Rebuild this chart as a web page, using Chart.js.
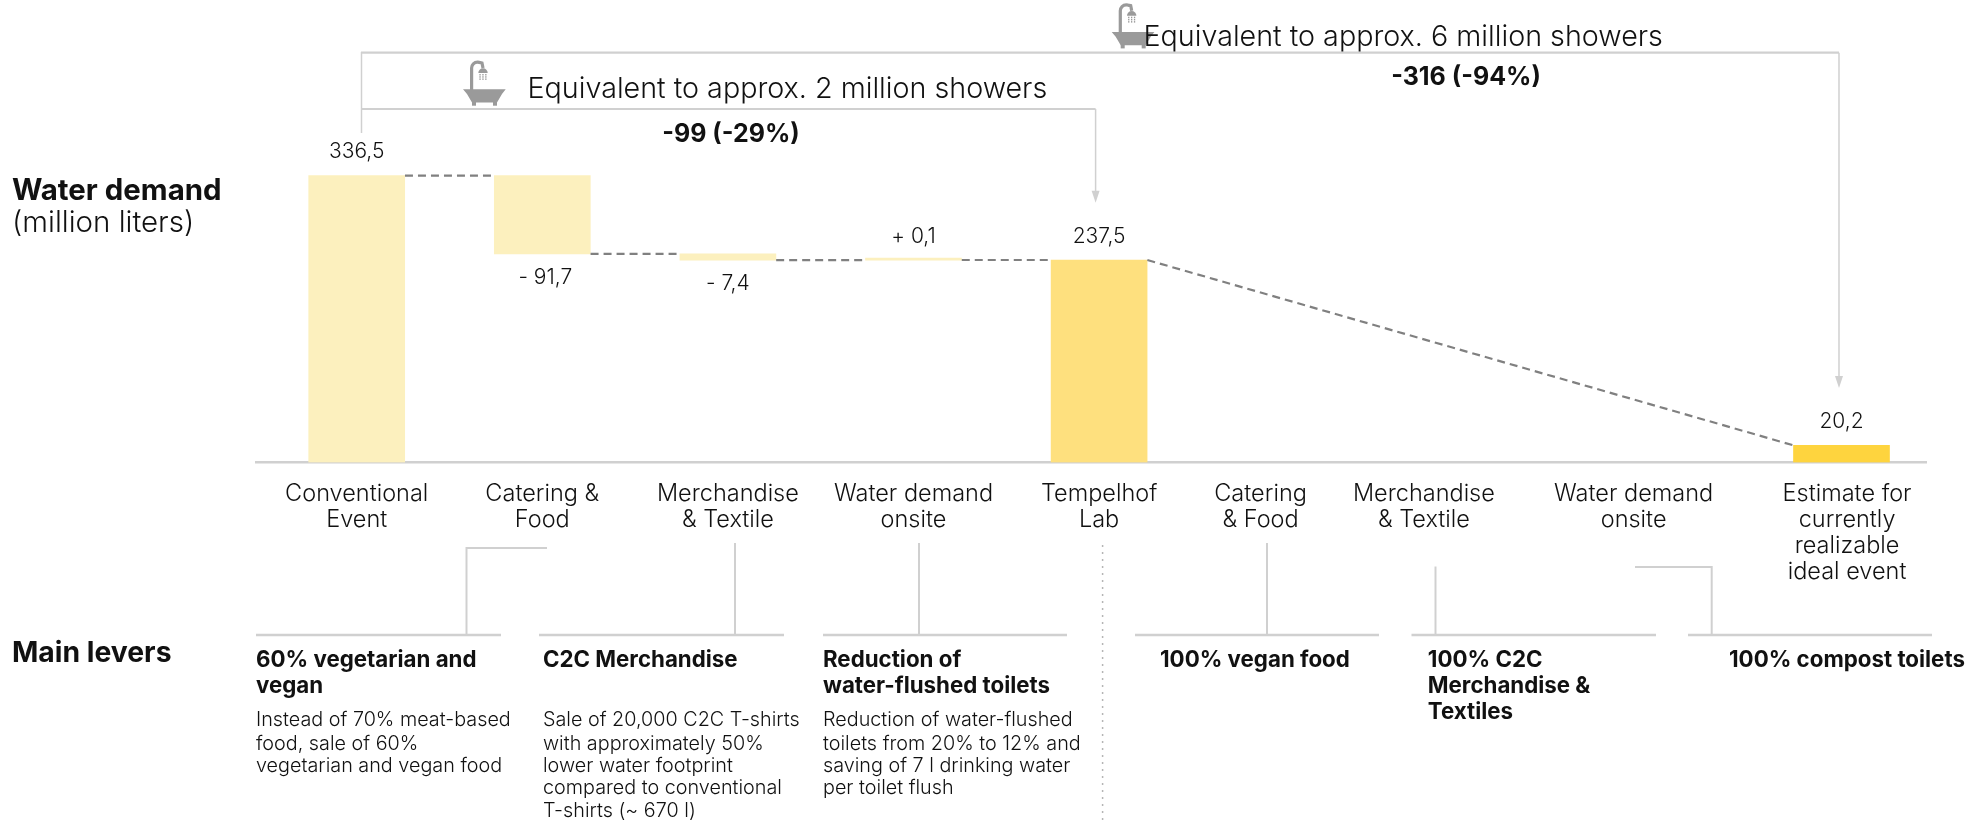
<!DOCTYPE html>
<html>
<head>
<meta charset="utf-8">
<title>Water demand</title>
<script src="https://cdn.jsdelivr.net/npm/chart.js@4/dist/chart.umd.min.js"></script>
<style>
  html, body { margin: 0; padding: 0; background: #fff; }
  canvas { display: block; }
</style>
</head>
<body>
<canvas id="waterChart" width="1987" height="820"></canvas>
<script>
const categories = [
    ['Conventional', 'Event'],
    ['Catering &', 'Food'],
    ['Merchandise', '& Textile'],
    ['Water demand', 'onsite'],
    ['Tempelhof', 'Lab'],
    ['Catering', '& Food'],
    ['Merchandise', '& Textile'],
    ['Water demand', 'onsite'],
    ['Estimate for', 'currently', 'realizable', 'ideal event']
];
// bars only exist for some of the columns, the rest stay null
const barStart = [0, 244.8, 237.4, 237.5, 0, null, null, null, 0];
const barEnd = [336.5, 336.5, 244.8, 237.4, 237.5, null, null, null, 20.2];
const valueLabels = ['336,5', '- 91,7', '- 7,4', '+ 0,1', '237,5', '', '', '', '20,2'];
const connectorLevels = [336.5, 244.8, 237.4, 237.5];

const barColors = ['#fcf0be', '#fcf0be', '#fcf0be', '#fcf0be', '#fee07e', null, null, null, '#fed43e'];
const tickSlots = [0, 1, 2, 3, 4, 4.87, 5.75, 6.88, 8.03];

const FONT = 'Inter, "Open Sans", sans-serif';
const GREY = '#d0d0d0';
const halfBar = 0.26;

function buildBars() {
    const out = [];
    categories.forEach((c, i) => {
        if (barEnd[i] !== null) out.push({ x: i, y: [barStart[i], barEnd[i]] });
    });
    return out;
}

function buildConnectors() {
    const pts = [];
    connectorLevels.forEach((level, i) => {
        pts.push({ x: i + halfBar, y: level });
        pts.push({ x: i + 1 - halfBar, y: level });
        pts.push({ x: i + 1, y: null });
    });
    pts.push({ x: 4 + halfBar, y: barEnd[4] });
    pts.push({ x: 8 - halfBar, y: barEnd[8] });
    return pts;
}

function seg(ctx, x1, y1, x2, y2, width, color) {
    ctx.strokeStyle = color || GREY;
    ctx.lineWidth = width || 2;
    ctx.beginPath();
    ctx.moveTo(x1, y1);
    ctx.lineTo(x2, y2);
    ctx.stroke();
}

function arrowHead(ctx, x, y) {
    ctx.fillStyle = GREY;
    ctx.beginPath();
    ctx.moveTo(x - 4, y - 12);
    ctx.lineTo(x + 4, y - 12);
    ctx.lineTo(x, y);
    ctx.closePath();
    ctx.fill();
}

function label(ctx, str, x, y, font, align) {
    ctx.font = font;
    ctx.textAlign = align || 'left';
    ctx.textBaseline = 'middle';
    ctx.fillStyle = '#111';
    ctx.fillText(str, x, y + 1);
}

function bathtub(ctx, dx, dy) {
    ctx.save();
    ctx.translate(dx, dy);
    ctx.fillStyle = '#9a9a9a';
    ctx.strokeStyle = '#9a9a9a';
    ctx.beginPath();
    ctx.moveTo(0, 28.3);
    ctx.lineTo(42.7, 28.3);
    ctx.lineTo(39, 33);
    ctx.lineTo(34, 41.5);
    ctx.lineTo(9, 41.5);
    ctx.lineTo(4, 33);
    ctx.closePath();
    ctx.fill();
    ctx.fillRect(9, 41, 4, 3.7);
    ctx.fillRect(30, 41, 4, 3.7);
    ctx.lineWidth = 3.2;
    ctx.beginPath();
    ctx.moveTo(8.6, 29);
    ctx.lineTo(8.6, 7);
    ctx.arc(14.5, 7, 5.9, Math.PI, 1.6 * Math.PI);
    ctx.lineTo(19, 2);
    ctx.lineTo(20, 7);
    ctx.stroke();
    ctx.beginPath();
    ctx.arc(20, 12, 4.7, Math.PI, 0);
    ctx.fill();
    for (let i = 0; i < 3; i++) {
        for (let j = 0; j < 3; j++) {
            ctx.fillRect(16.4 + i * 2.9, 13 + j * 2.2, 1.3, 1.5);
        }
    }
    ctx.restore();
}

const valueLabelPlugin = {
    id: 'valueLabelPlugin',
    afterDatasetsDraw(chart) {
        const ctx = chart.ctx;
        const x = chart.scales.x;
        const y = chart.scales.y;
        valueLabels.forEach((txt, i) => {
            if (!txt) return;
            const below = txt.charAt(0) === '-';
            const py = below ? y.getPixelForValue(barStart[i]) + 22.5 : y.getPixelForValue(Math.max(barStart[i], barEnd[i])) - 24.5;
            label(ctx, txt, x.getPixelForValue(i) + (i === 1 ? 3 : 0), py, '300 21px ' + FONT, 'center');
        });
    }
};

const overlayPlugin = {
    id: 'overlayPlugin',
    afterDraw(chart) {
        const ctx = chart.ctx;
        const x = chart.scales.x;
        const target1 = x.getPixelForValue(4) - 3.5;
        const target2 = x.getPixelForValue(8) - 2.5;
        const small = '300 19.8px ' + FONT;
        const bold = '700 22.3px ' + FONT;
        const big = '700 25px ' + FONT;
        const note = '300 28.7px ' + FONT;

        ctx.save();

        // brackets on top
        seg(ctx, 361, 52.7, target2, 52.7, 2.2);
        seg(ctx, 361, 109, target1, 109, 2.2);
        seg(ctx, 361.5, 52, 361.5, 133, 1.5);
        seg(ctx, target1, 109, target1, 195, 1.5);
        seg(ctx, target2, 52.7, target2, 380, 1.5);
        arrowHead(ctx, target1, 202.7);
        arrowHead(ctx, target2, 388);

        bathtub(ctx, 463, 61);
        bathtub(ctx, 1111.7, 3.7);

        label(ctx, 'Equivalent to approx. 2 million showers', 527.5, 88, note);
        label(ctx, 'Equivalent to approx. 6 million showers', 1143.5, 36, note);
        label(ctx, '-99 (-29%)', 731, 133, big, 'center');
        label(ctx, '-316 (-94%)', 1466, 76, big, 'center');

        label(ctx, 'Water demand', 12, 190, '700 29.4px ' + FONT);
        label(ctx, '(million liters)', 12, 222, '300 29.5px ' + FONT);
        label(ctx, 'Main levers', 12, 652, '700 28.3px ' + FONT);

        // lever underlines
        seg(ctx, 256, 635, 501, 635, 2.5);
        seg(ctx, 539, 635, 784, 635, 2.5);
        seg(ctx, 823, 635, 1067, 635, 2.5);
        seg(ctx, 1135, 635, 1379, 635, 2.5);
        seg(ctx, 1411.5, 635, 1656, 635, 2.5);
        seg(ctx, 1688, 635, 1932, 635, 2.5);

        // leader lines from the column labels
        seg(ctx, 466.5, 548, 547, 548, 2);
        seg(ctx, 466.5, 547, 466.5, 635, 2);
        seg(ctx, 735, 543, 735, 635, 2);
        seg(ctx, 919, 543, 919, 635, 2);
        seg(ctx, 1267, 543, 1267, 635, 2);
        seg(ctx, 1435.5, 566.5, 1435.5, 635, 2);
        seg(ctx, 1635, 567, 1711.7, 567, 2);
        seg(ctx, 1711.7, 566, 1711.7, 635, 2);

        ctx.setLineDash([2, 5]);
        seg(ctx, 1102.6, 545, 1102.6, 820, 1.5, '#b5b5b5');
        ctx.setLineDash([]);

        label(ctx, '60% vegetarian and', 256, 659, bold);
        label(ctx, 'vegan', 256, 685, bold);
        label(ctx, 'C2C Merchandise', 543, 659, bold);
        label(ctx, 'Reduction of', 823, 659, bold);
        label(ctx, 'water-flushed toilets', 823, 685, bold);
        label(ctx, '100% vegan food', 1160, 659, bold);
        label(ctx, '100% C2C', 1427.8, 659, bold);
        label(ctx, 'Merchandise &', 1427.8, 685, bold);
        label(ctx, 'Textiles', 1427.8, 711, bold);
        label(ctx, '100% compost toilets', 1729, 659, bold);

        label(ctx, 'Instead of 70% meat-based', 256, 719.5, small);
        label(ctx, 'food, sale of 60%', 256, 743, small);
        label(ctx, 'vegetarian and vegan food', 256, 765, small);

        label(ctx, 'Sale of 20,000 C2C T-shirts', 543, 719.5, small);
        label(ctx, 'with approximately 50%', 543, 743, small);
        label(ctx, 'lower water footprint', 543, 765, small);
        label(ctx, 'compared to conventional', 543, 787.5, small);
        label(ctx, 'T-shirts (~ 670 l)', 543, 810, small);

        label(ctx, 'Reduction of water-flushed', 823, 719.5, small);
        label(ctx, 'toilets from 20% to 12% and', 823, 743, small);
        label(ctx, 'saving of 7 l drinking water', 823, 765, small);
        label(ctx, 'per toilet flush', 823, 787.5, small);

        ctx.restore();
    }
};

new Chart(document.getElementById('waterChart').getContext('2d'), {
    type: 'bar',
    data: {
        datasets: [{
            type: 'bar',
            data: buildBars(),
            backgroundColor: barColors.filter(c => c !== null),
            borderWidth: 0,
            borderSkipped: false,
            barThickness: 96,
            minBarLength: 2,
            order: 2
        }, {
            type: 'line',
            data: buildConnectors(),
            borderColor: '#808080',
            borderWidth: 2.2,
            borderDash: [8, 5],
            pointRadius: 0,
            spanGaps: false,
            order: 1
        }]
    },
    options: {
        responsive: false,
        animation: false,
        layout: { padding: { left: 256, right: 60.5, top: 0, bottom: 0 } },
        plugins: {
            legend: { display: false },
            tooltip: { enabled: false },
            title: { display: false }
        },
        scales: {
            x: {
                type: 'linear',
                bounds: 'data',
                min: -0.5426,
                max: 8.458,
                offset: false,
                grid: { display: false, offset: false, drawTicks: false },
                border: { display: true, color: GREY, width: 2.4 },
                afterFit(scale) { scale.height = 357.5; },
                afterBuildTicks(scale) {
                    scale.ticks = tickSlots.map(v => ({ value: v }));
                },
                ticks: {
                    autoSkip: false,
                    maxRotation: 0,
                    padding: 19,
                    color: '#111',
                    font: { family: FONT, size: 23.5, weight: '300', lineHeight: 1.1 },
                    callback(value, index) { return categories[index]; }
                }
            },
            y: { display: false, min: 0, max: 542.5 }
        }
    },
    plugins: [valueLabelPlugin, overlayPlugin]
});
</script>
</body>
</html>
